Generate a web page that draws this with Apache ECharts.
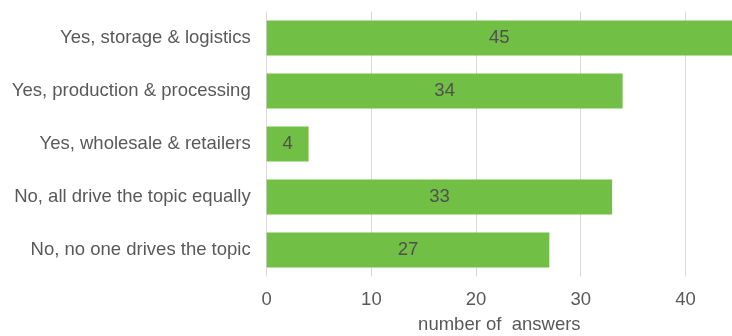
<!DOCTYPE html>
<html>
<head>
<meta charset="utf-8">
<script src="https://cdn.jsdelivr.net/npm/echarts@6/dist/echarts.min.js"></script>
<style>
  html, body { margin: 0; padding: 0; background: #fff; }
  #chart { width: 732px; height: 336px; }
</style>
</head>
<body>
<div id="chart"></div>
<script>
// categories top to bottom
var categories = [
  'Yes, storage & logistics',
  'Yes, production & processing',
  'Yes, wholesale & retailers',
  'No, all drive the topic equally',
  'No, no one drives the topic'
];
var answers = [45, 34, 4, 33, 27];
var axisName = 'number of  answers';

var chart = echarts.init(document.getElementById('chart'));
chart.setOption({
  animation: false,
  grid: { left: 266.7, right: 0, top: 11.5, bottom: 59.5, outerBoundsMode: 'none' },
  xAxis: {
    type: 'value',
    min: 0,
    max: 44.45,
    interval: 10,
    name: axisName,
    nameLocation: 'middle',
    nameGap: 39,
    nameTextStyle: { color: '#595959', fontSize: 18.5, fontFamily: 'Liberation Sans' },
    axisLine: { show: false },
    axisTick: { show: false },
    axisLabel: { color: '#595959', fontSize: 18.5, fontFamily: 'Liberation Sans', margin: 14, showMaxLabel: false },
    splitLine: { show: true, lineStyle: { color: '#d9d9d9', width: 1 } }
  },
  yAxis: {
    type: 'category',
    inverse: true,
    data: categories,
    axisLine: { show: false },
    axisTick: { show: false },
    axisLabel: { color: '#595959', fontSize: 18.5, fontFamily: 'Liberation Sans', margin: 16 }
  },
  series: [{
    type: 'bar',
    data: answers,
    barWidth: 35,
    itemStyle: { color: '#71bf44' },
    label: {
      show: true,
      position: 'inside',
      color: '#505050',
      fontSize: 18.5,
      fontFamily: 'Liberation Sans'
    }
  }]
});
</script>
</body>
</html>
